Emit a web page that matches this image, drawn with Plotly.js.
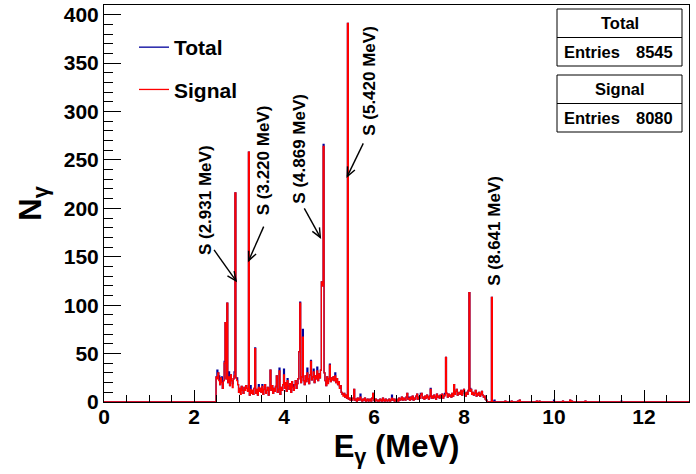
<!DOCTYPE html>
<html>
<head>
<meta charset="utf-8">
<script src="https://cdn.plot.ly/plotly-3.0.1.min.js"></script>
<style>html,body{margin:0;padding:0;background:#fff;}#chart{width:696px;height:474px;}</style>
</head>
<body>
<div id="chart"></div>
<script>
// ---- data (counts per 0.02 MeV bin) ----
const binWidth = 0.02;
const signalStart = 2.50;           // centre of first listed signal bin (MeV)
const signalCounts = [
  26,24,30,22,18,25,20,14,22,40,
  82,24,102,20,26,17,28,22,15,24,
  27,216,25,22,18,10,14,8,16,12,
  9,15,12,17,14,11,258,7,13,9,
  12,8,14,55,9,13,7,15,11,14,
  10,16,8,13,18,9,12,15,7,14,
  33,12,17,9,14,11,16,27,10,13,
  32,8,15,12,18,28,14,20,11,22,
  17,13,19,10,21,15,12,18,22,14,
  19,24,52,102,20,26,67,22,18,27,
  21,30,24,19,28,42,23,26,31,20,
  27,24,32,22,29,25,33,124,120,264,
  30,22,17,26,19,24,38,21,25,23,
  26,22,27,20,24,18,21,14,17,10,
  8,6,9,5,7,4,391,3,4,2,
  3,2,4,13,2,3,1,4,2,3,
  5,2,1,3,2,4,1,2,3,1,
  2,3,1,4,9,2,1,3,2,1,
  2,1,3,2,1,4,2,1,3,2,
  1,2,3,1,2,4,2,3,1,2,
  3,2,1,4,2,3,5,2,4,3,
  2,5,9,3,4,2,5,3,6,2,
  4,3,6,8,3,5,4,7,9,4,
  5,3,6,4,7,5,3,6,13,4,
  6,4,7,5,3,8,5,6,4,7,
  5,8,4,6,7,46,9,5,8,6,
  7,5,9,6,18,8,11,13,7,9,
  10,8,12,7,11,13,9,6,10,8,
  12,113,11,13,8,10,7,9,12,6,
  9,7,10,6,8,11,7,5,6,3,
  2,0,0,0,0,0,108,0,0,0
];
// isolated signal counts above 8.7 MeV
const signalTailE = [8.92, 9.06, 9.20, 9.24, 9.62, 9.68, 10.20, 10.36, 10.40, 10.70];
const signalTailN = [1, 1, 1, 2, 1, 1, 1, 2, 1, 1];
// background counts (Total = Signal + background)
const bkgE = [2.52,2.56,2.62,2.68,2.78,2.86,2.90,2.96,3.04,3.14,3.26,3.36,3.44,3.52,3.60,3.90,4.00,4.08,4.20,4.36,4.42,4.52,4.60,4.66,4.74,4.88,4.98,5.02,5.14,5.24,5.32,5.70,6.40,6.78,7.04,7.26,7.58,8.14,8.66,8.68,10.00,11.50];
const bkgN = [9,5,6,2,5,4,4,3,4,3,4,1,3,2,3,3,6,2,3,1,8,5,1,3,4,2,4,1,3,2,2,3,3,1,2,1,2,3,1,2,2,1];
const peakLabels = ["S (2.931 MeV)", "S (3.220 MeV)", "S (4.869 MeV)", "S (5.420 MeV)", "S (8.641 MeV)"];
const statNames = ["Total", "Signal"];
const statEntries = [8545, 8080];
const xTitle = "E<sub>γ</sub> (MeV)";
const yTitle = "N<sub>γ</sub>";

// ---- build histograms on the full 0–13 MeV grid ----
const nBins = Math.round(13 / binWidth) + 1;
const centres = [], sig = new Array(nBins).fill(0);
for (let j = 0; j < nBins; j++) centres.push(+(j * binWidth).toFixed(4));
const idx = e => Math.round(e / binWidth);
signalCounts.forEach((c, k) => { sig[idx(signalStart) + k] += c; });
signalTailE.forEach((e, k) => { sig[idx(e)] += signalTailN[k]; });
const tot = sig.slice();
bkgE.forEach((e, k) => { tot[idx(e)] += bkgN[k]; });

const FONT = "Liberation Sans, Arial, Helvetica, sans-serif";
const traces = [
  {x: centres, y: tot, type: "scatter", mode: "lines", name: "Total", legendgroup: "a",
   line: {shape: "hvh", color: "#00009c", width: 1.3}},
  {x: centres, y: sig, type: "scatter", mode: "lines", name: "Signal", legendgroup: "b",
   line: {shape: "hvh", color: "#ff0000", width: 1.3}}
];

// plot-area helpers
const L = 104, R = 7, T = 5, B = 72, W = 696, H = 474;
const XMAX = 13, YMAX = 410;
const pw = W - L - R, ph = H - T - B;
const px = x => (x - L) / pw, py = y => (H - B - y) / ph;      // pixel -> paper
const dx = v => L + v * pw / XMAX, dy = v => T + ph - v * ph / YMAX; // data -> pixel

const shapes = [], annotations = [];
// stat boxes
const boxTop = [9, 75];
boxTop.forEach((t, i) => {
  shapes.push({type: "rect", xref: "paper", yref: "paper", x0: px(557), x1: px(682), y0: py(t), y1: py(t + 57),
    fillcolor: "#ffffff", line: {color: "#000", width: 1}, layer: "above"});
  shapes.push({type: "line", xref: "paper", yref: "paper", x0: px(557), x1: px(682), y0: py(t + 28.5), y1: py(t + 28.5),
    line: {color: "#000", width: 1}, layer: "above"});
  annotations.push({xref: "paper", yref: "paper", x: px(619.5), y: py(t + 14), text: statNames[i], showarrow: false,
    xanchor: "center", yanchor: "middle", font: {family: FONT, size: 16.5, weight: "bold", color: "#000"}});
  annotations.push({xref: "paper", yref: "paper", x: px(562), y: py(t + 42.5), text: "Entries", showarrow: false,
    xanchor: "left", yanchor: "middle", font: {family: FONT, size: 16.5, weight: "bold", color: "#000"}});
  annotations.push({xref: "paper", yref: "paper", x: px(675), y: py(t + 42.5), text: String(statEntries[i]), showarrow: false,
    xanchor: "right", yanchor: "middle", font: {family: FONT, size: 16.5, weight: "bold", color: "#000"}});
});
// peak labels (data coordinates)
const labelX = [2.254, 3.563, 4.341, 5.895, 8.670];
const labelY = [209, 250, 262, 332, 177];
peakLabels.forEach((t, i) => {
  annotations.push({x: labelX[i], y: labelY[i], text: t, showarrow: false, textangle: -90,
    xanchor: "center", yanchor: "middle", font: {family: FONT, size: 17, weight: "bold", color: "#000"}});
});
// arrows drawn as shapes: tip in data coords, tail offset in px
const arrowTipX = [2.935, 3.215, 4.807, 5.406];
const arrowTipY = [125, 146, 170, 233];
const arrowAX = [-22, 15, -16, 16];
const arrowAY = [-31, -34, -29, -33];
arrowTipX.forEach((x, i) => {
  const hx = dx(x), hy = dy(arrowTipY[i]);
  const tx = hx + arrowAX[i], ty = hy + arrowAY[i];
  const ang = Math.atan2(ty - hy, tx - hx), hl = 10, spread = 0.42;
  const a1x = hx + hl * Math.cos(ang + spread), a1y = hy + hl * Math.sin(ang + spread);
  const a2x = hx + hl * Math.cos(ang - spread), a2y = hy + hl * Math.sin(ang - spread);
  shapes.push({type: "line", xref: "paper", yref: "paper", x0: px(tx), y0: py(ty), x1: px(hx), y1: py(hy),
    line: {color: "#000", width: 1.4}, layer: "above"});
  shapes.push({type: "path", xref: "paper", yref: "paper",
    path: `M${px(a1x)},${py(a1y)} L${px(hx)},${py(hy)} L${px(a2x)},${py(a2y)}`,
    line: {color: "#000", width: 1.4}, layer: "above"});
});

const layout = {
  width: W, height: H,
  margin: {l: L, r: R, t: T, b: B, pad: 0},
  paper_bgcolor: "#fff", plot_bgcolor: "#fff",
  font: {family: FONT, color: "#000"},
  showlegend: true,
  legend: {x: px(134), y: py(27), xanchor: "left", yanchor: "top", bgcolor: "rgba(0,0,0,0)",
    font: {family: FONT, size: 21, weight: "bold", color: "#000"}, traceorder: "grouped", tracegroupgap: 12,
    itemwidth: 30},
  xaxis: {range: [0, XMAX], dtick: 2, tick0: 0, ticks: "inside", ticklen: 12, tickcolor: "#000", tickwidth: 1,
    showline: true, linecolor: "#000", linewidth: 1, mirror: true, showgrid: false, zeroline: false,
    ticklabelstandoff: -4,
    tickfont: {family: FONT, size: 21, weight: "bold", color: "#000"},
    minor: {dtick: 0.5, ticks: "inside", ticklen: 7, tickcolor: "#000", showgrid: false},
    title: {text: xTitle, font: {family: FONT, size: 31, weight: "bold", color: "#000"}, standoff: 8}},
  yaxis: {range: [0, YMAX], dtick: 50, tick0: 0, ticks: "inside", ticklen: 17, tickcolor: "#000", tickwidth: 1,
    showline: true, linecolor: "#000", linewidth: 1, mirror: true, showgrid: false, zeroline: false,
    tickfont: {family: FONT, size: 21, weight: "bold", color: "#000"},
    minor: {dtick: 10, ticks: "inside", ticklen: 9, tickcolor: "#000", showgrid: false},
    title: {text: yTitle, font: {family: FONT, size: 31, weight: "bold", color: "#000"}, standoff: 12}},
  shapes: shapes, annotations: annotations
};
Plotly.newPlot("chart", traces, layout, {displayModeBar: false, staticPlot: true});
</script>
</body>
</html>
